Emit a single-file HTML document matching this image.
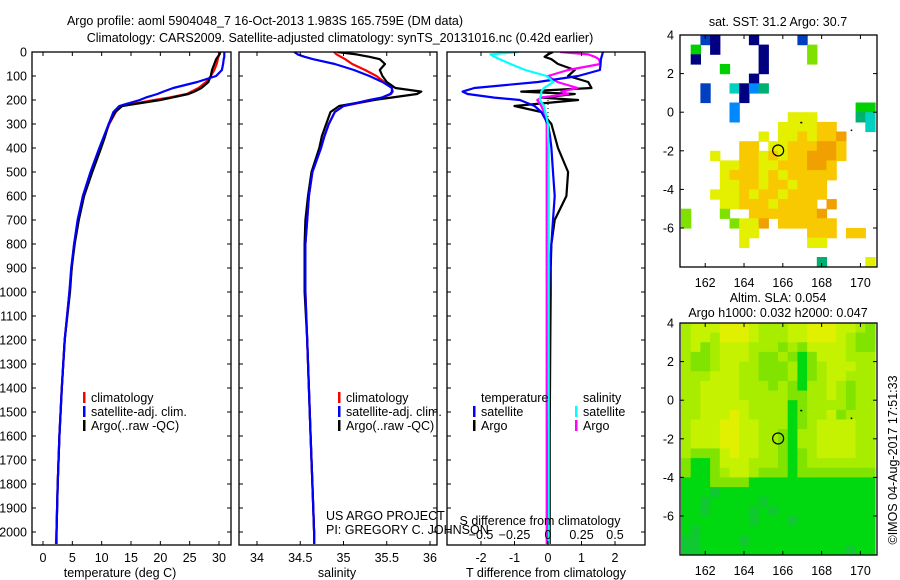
<!DOCTYPE html>
<html><head><meta charset="utf-8"><style>
body{margin:0;background:#fff;}
svg{display:block;font-family:"Liberation Sans",sans-serif;font-size:12.5px;}
</style></head><body>
<svg id="chart" width="900" height="580" viewBox="0 0 900 580" xmlns="http://www.w3.org/2000/svg">
<rect width="900" height="580" fill="#fff"/>
<text x="265" y="25" text-anchor="middle">Argo profile: aoml 5904048_7 16-Oct-2013 1.983S 165.759E (DM data)</text>
<text x="340" y="42" text-anchor="middle">Climatology: CARS2009. Satellite-adjusted climatology: synTS_20131016.nc (0.42d earlier)</text>
<g id="layer"></g>
</svg>
<script>
const depths=[0,10,20,30,50,75,100,125,150,165,175,190,200,225,250,300,350,400,500,600,700,800,900,1000,1200,1400,1600,1800,2000,2050];
const tempClim=[30.0,30.0,29.9,29.8,29.6,29.2,28.6,27.8,26.5,25.3,24.5,21.5,19.0,13.3,12.4,11.3,10.5,9.7,8.2,6.8,6.0,5.3,4.9,4.5,3.7,3.2,2.8,2.5,2.3,2.2];
const tempArgo=[30.2,30.1,29.8,29.5,29.2,28.8,28.6,28.2,27.0,25.8,24.8,22.0,20.0,13.5,12.3,11.2,10.6,9.9,8.4,7.0,6.1,5.4,4.9,4.6,3.7,3.2,2.8,2.5,2.3,2.3];
const tempSat=[30.9,30.9,30.9,30.8,30.7,30.5,29.5,26.3,22.2,20.5,19.5,17.5,16.5,13.0,12.0,11.2,10.4,9.6,8.1,6.8,5.9,5.3,4.8,4.5,3.7,3.2,2.8,2.5,2.3,2.3];
const salClim=[34.89,34.92,34.97,35.02,35.1,35.25,35.38,35.47,35.56,35.57,35.55,35.45,35.35,35.0,34.9,34.83,34.78,34.74,34.64,34.6,34.58,34.56,34.56,34.56,34.58,34.6,34.62,34.64,34.66,34.66];
const salSat=[34.43,34.47,34.55,34.65,34.9,35.12,35.3,35.45,35.56,35.56,35.54,35.44,35.3,35.0,34.9,34.83,34.78,34.74,34.64,34.6,34.58,34.56,34.56,34.56,34.58,34.6,34.62,34.64,34.66,34.66];
const salArgo=[34.93,35.15,35.3,35.42,35.48,35.42,35.45,35.5,35.6,35.9,35.85,35.55,35.35,34.95,34.85,34.8,34.75,34.72,34.63,34.59,34.56,34.55,34.55,34.55,34.58,34.6,34.62,34.64,34.66,34.66];
const tDiffSat=[1.64,1.62,1.6,1.58,1.57,1.55,0.9,-0.3,-2.2,-2.55,-2.4,-1.6,-0.84,-0.4,-0.2,0.0,0.06,0.1,0.15,0.2,0.15,0.1,0.05,0.03,0.02,0.02,0.01,0.01,0.01,0.01];
const tDiffArgo=[0.15,0.0,-0.1,0.1,0.3,0.8,0.6,1.2,1.3,-0.8,0.8,-0.2,0.9,-1.0,-0.2,0.1,0.2,0.3,0.6,0.55,0.2,0.1,0.08,0.08,0.07,0.06,0.05,0.05,0.05,0.05];
const sDiffArgo=[0.09,0.3,0.35,0.38,0.39,0.15,0.0,0.07,0.22,0.1,0.15,-0.05,-0.08,-0.05,-0.03,-0.01,-0.01,-0.01,-0.01,-0.01,-0.01,-0.01,-0.01,-0.01,-0.01,-0.01,-0.01,-0.01,-0.01,-0.01];
const sDiffSat=[-0.22,-0.43,-0.4,-0.36,-0.28,-0.17,-0.01,0.04,-0.03,-0.05,-0.05,-0.06,-0.06,-0.03,-0.02,0,0,0.005,0.005,0.005,0.005,0.005,0.005,0.005,0.005,0.005,0.005,0.005,0.005,0.005];
const depthTicks=[0,100,200,300,400,500,600,700,800,900,1000,1100,1200,1300,1400,1500,1600,1700,1800,1900,2000];
const tempTicks=[0,5,10,15,20,25,30];
const salTicks=[34,34.5,35,35.5,36];
const tdTicks=[-2,-1,0,1,2];
const sdTicks=[-0.5,-0.25,0,0.25,0.5];
const sdTickLabels=["\u22120.5","\u22120.25","0","0.25","0.5"];
const latTicks=[4,2,0,-2,-4,-6];
const lonTicks=[162,164,166,168,170];
const floatLon=165.759, floatLat=-1.983;
// SST map cells: 0.5 deg grid, cols lon 160.75+0.5c, rows lat 4-0.5r
const sstRows=[
"..bn...n....b.......",
".g.n....n....G......",
".n......n....G......",
"....g...n...........",
".......n............",
"..b..cnlt...........",
"..b...n.............",
".....l............gg",
".....l.....yyy....tc",
"..........yyyyoo...c",
"........y.yyoyooO...",
"......oo.yyoooOOo...",
"...y..ooyoyooOOOo...",
"....yyooyyoooOOo....",
"....yoooyoyooooo....",
"....yyooyooyooo.....",
"...yyyoyooyoooo.....",
"....yyoooyoooo.O....",
"G...G..oooooooO.....",
"G....GyyO.oooooo....",
"......yy.....ooo.oo.",
"......y......yy.....",
"....................",
"..............t....y"];
const sstColors={n:"#000080",b:"#0040c0",l:"#0088ff",c:"#00d0c0",t:"#00b070",g:"#00d000",G:"#80e000",y:"#e4f000",o:"#f8c800",O:"#f0a000"};
const slaRows=[
"lyyyYYYylllyyYYYyylm",
"lyylYYYylllyyYYYylmm",
"lymlyyylllmlmyyyylmm",
"lmmlyyylmmlmgmyyylll",
"lmmlyyllmmmlgmlyyyll",
"lllyyyllmmmlgmlyylll",
"llyyyylllmlmgllylmll",
"llyyyylllllmmllylmll",
"llyyyyyllllgmllllmll",
"llyyyYyllllgmllymlll",
"lyyyYYyylllgmlyyyyll",
"lyyyYYyyllmgllyyyyll",
"lyyyYYyyllmgllyyyyll",
"lmmmyYyyllmgmlyyyyll",
"mggmyyylllmgmlllllll",
"mggmlyylmmmgmmmmmmmm",
"gggmmmmggggggggggggg",
"gggdgggggggggggggggg",
"ggdgggggdggggggggggg",
"ggdggggdgdgggggggggg",
"gggggggdgggdgggggggg",
"gdgggggggggggggggggg",
"ddggggdggggggggggggg",
"ddgggggggggggggggdgg"];
const slaColors={Y:"#e0f000",y:"#c4f200",l:"#a8ec00",m:"#80e400",g:"#00d810",d:"#10c830"};

const NS="http://www.w3.org/2000/svg";
const layer=document.getElementById('layer');
function mk(tag,attrs,parent){const e=document.createElementNS(NS,tag);for(const k in attrs)e.setAttribute(k,attrs[k]);(parent||layer).appendChild(e);return e;}
function txt(x,y,s,anchor,parent){const t=mk('text',{x:x,y:y,'text-anchor':anchor||'middle'},parent);t.textContent=s;return t;}

const PT=52, PB=545;
const yD=d=>PT+d*0.24;
const xT=v=>43+v*5.867;
const xS=v=>343.5+(v-35)*86.5;
const xTD=v=>548+v*33.5;
const xSD=v=>548+v*134;
const panels=[{x0:32,x1:231,name:'temperature-panel'},{x0:239,x1:437,name:'salinity-panel'},{x0:447,x1:645,name:'difference-panel'}];

function series(vals,xf,color,name,parent){
  let d='';vals.forEach((v,i)=>{d+=(i?'L':'M')+xf(v).toFixed(1)+' '+yD(depths[i]).toFixed(1);});
  const p=mk('path',{d:d,fill:'none',stroke:color,'stroke-width':2.2,'stroke-linejoin':'round'},parent);
  
  
  return p;
}
function legendEntry(x,y,color,label,parent){
  const g=mk('g',{},parent);
  
  
  mk('rect',{x:x,y:y-10,width:2.5,height:11,fill:color},g);
  txt(x+8,y,label,'start',g);
}

panels.forEach((p,pi)=>{
  const g=mk('g',{});
  
  
  p.g=g;
  const clip=mk('clipPath',{id:'clip'+pi},g);
  mk('rect',{x:p.x0,y:PT,width:p.x1-p.x0,height:PB-PT},clip);
  p.lines=mk('g',{'clip-path':'url(#clip'+pi+')'},g);
  depthTicks.forEach(d=>{
    mk('line',{x1:p.x0,x2:p.x0+4,y1:yD(d),y2:yD(d),stroke:'#000'},g);
    mk('line',{x1:p.x1-4,x2:p.x1,y1:yD(d),y2:yD(d),stroke:'#000'},g);
  });
});
const ya=mk('g',{});
depthTicks.forEach(d=>txt(27,yD(d)+4.5,String(d),'end',ya));

function xAxis(p,ticks,xf,labels,ly,name){
  const g=mk('g',{},p.g);
  ticks.forEach((t,i)=>{
    const x=xf(t);
    mk('line',{x1:x,x2:x,y1:PB,y2:PB-4,stroke:'#000'},g);
    mk('line',{x1:x,x2:x,y1:PT,y2:PT+4,stroke:'#000'},g);
    txt(x,ly,labels?labels[i]:String(t),'middle',g);
  });
}
xAxis(panels[0],tempTicks,xT,null,562,'temperature-x-axis');
xAxis(panels[1],salTicks,xS,null,562,'salinity-x-axis');
xAxis(panels[2],tdTicks,xTD,null,562,'t-difference-x-axis');
{const g=mk('g',{},panels[2].g);
 sdTicks.forEach((t,i)=>txt(xSD(t),539,sdTickLabels[i],'middle',g));}
txt(120,577,'temperature (deg C)');
txt(337,577,'salinity');
txt(546,577,'T difference from climatology');
txt(540,525,'S difference from climatology');

series(tempClim,xT,'#f00','temp-climatology-line',panels[0].lines);
series(tempArgo,xT,'#000','temp-argo-line',panels[0].lines);
series(tempSat,xT,'#00f','temp-satellite-line',panels[0].lines);
series(salClim,xS,'#f00','sal-climatology-line',panels[1].lines);
series(salArgo,xS,'#000','sal-argo-line',panels[1].lines);
series(salSat,xS,'#00f','sal-satellite-line',panels[1].lines);
const zl=mk('line',{x1:548,x2:548,y1:yD(200),y2:yD(1800),stroke:'#000','stroke-dasharray':'1 3'},panels[2].lines);

series(tDiffArgo,xTD,'#000','t-diff-argo-line',panels[2].lines);
series(sDiffArgo,xSD,'#f0f','s-diff-argo-line',panels[2].lines);
series(tDiffSat,xTD,'#00f','t-diff-satellite-line',panels[2].lines);
series(sDiffSat,xSD,'#0ff','s-diff-satellite-line',panels[2].lines);

panels.forEach(p=>mk('rect',{x:p.x0,y:PT,width:p.x1-p.x0,height:PB-PT,fill:'none',stroke:'#000','stroke-width':1.3},p.g));

[[83,panels[0]],[338,panels[1]]].forEach(([x,p])=>{
  legendEntry(x,402,'#f00','climatology',p.g);
  legendEntry(x,416,'#00f','satellite-adj. clim.',p.g);
  legendEntry(x,430,'#000','Argo(..raw -QC)',p.g);
});
txt(481,402,'temperature','start',panels[2].g);
txt(583,402,'salinity','start',panels[2].g);
legendEntry(473,416,'#00f','satellite',panels[2].g);
legendEntry(473,430,'#000','Argo',panels[2].g);
legendEntry(575,416,'#0ff','satellite',panels[2].g);
legendEntry(575,430,'#f0f','Argo',panels[2].g);
txt(326,520,'US ARGO PROJECT','start');
txt(326,534,'PI: GREGORY C. JOHNSON','start');

function drawMap(top,rows,colors,name,xlabY){
  const MX0=680,MX1=877,MY1=top+232;
  const lx=lon=>MX0+(lon-160.7)*19.4;
  const ly=lat=>top+(4-lat)*19.3;
  const g=mk('g',{});
  const cid='clip'+name;
  const cp=mk('clipPath',{id:cid},g);mk('rect',{x:MX0,y:top,width:MX1-MX0,height:232},cp);
  const cells=mk('g',{'clip-path':'url(#'+cid+')'},g);
  rows.forEach((row,r)=>{
    for(let c=0;c<row.length;c++){
      const ch=row[c];if(ch==='.')continue;
      const lon=160.75+0.5*c, lat=4-0.5*r;
      const x=lx(lon),y=ly(lat);
      const rc=mk('rect',{x:x.toFixed(1),y:y.toFixed(1),width:(lx(lon+0.5)-x+0.6).toFixed(1),height:(ly(lat-0.5)-y+0.6).toFixed(1),fill:colors[ch]},cells);
      
      
    }
  });
  const fc=mk('circle',{cx:lx(floatLon),cy:ly(floatLat),r:5.5,fill:'none',stroke:'#000','stroke-width':1.2},g);
  
  mk('rect',{x:lx(166.9),y:ly(-0.5),width:2,height:1.5,fill:'#000'},g);
  mk('rect',{x:lx(169.5),y:ly(-0.9),width:1.5,height:1.5,fill:'#000'},g);
  mk('rect',{x:MX0,y:top,width:MX1-MX0,height:232,fill:'none',stroke:'#000','stroke-width':1.3},g);
  latTicks.forEach(t=>{const y=ly(t);
    mk('line',{x1:MX0,x2:MX0+4,y1:y,y2:y,stroke:'#000'},g);
    mk('line',{x1:MX1-4,x2:MX1,y1:y,y2:y,stroke:'#000'},g);
    txt(674,y+4.5,String(t),'end',g);});
  lonTicks.forEach(t=>{const x=lx(t);
    mk('line',{x1:x,x2:x,y1:MY1,y2:MY1-4,stroke:'#000'},g);
    mk('line',{x1:x,x2:x,y1:top,y2:top+4,stroke:'#000'},g);
    txt(x,xlabY,String(t),'middle',g);});
  return g;
}
drawMap(35,sstRows,sstColors,'sst-map',287);
drawMap(323,slaRows,slaColors,'sla-map',575);
txt(778,26,'sat. SST: 31.2 Argo: 30.7');
txt(778,302,'Altim. SLA: 0.054');
txt(778,317,'Argo h1000: 0.032 h2000: 0.047');
const ts=txt(0,0,'\u00A9IMOS 04-Aug-2017 17:51:33');
ts.setAttribute('transform','translate(897,460) rotate(-90)');


</script>
</body></html>
